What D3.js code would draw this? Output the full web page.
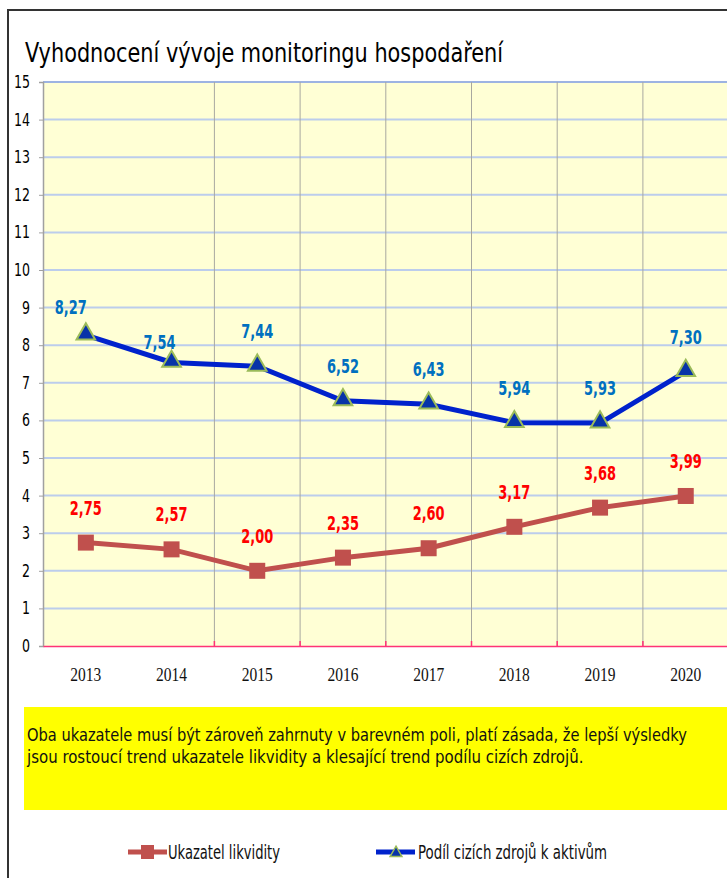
<!DOCTYPE html>
<html>
<head>
<meta charset="utf-8">
<script src="https://cdn.jsdelivr.net/npm/d3@7"></script>
<style>
  body { margin: 0; background: #fff; }
  svg { display: block; }
</style>
</head>
<body>
<svg id="chart" width="727" height="878"></svg>
<script>
// data
const years = ['2013', '2014', '2015', '2016', '2017', '2018', '2019', '2020'];
const likvidita = [2.75, 2.57, 2.00, 2.35, 2.60, 3.17, 3.68, 3.99];
const ciziZdroje = [8.27, 7.54, 7.44, 6.52, 6.43, 5.94, 5.93, 7.30];
const yTicks = d3.range(0, 16);

const titleText = 'Vyhodnocení vývoje monitoringu hospodaření';
const noteLines = [
  'Oba ukazatele musí být zároveň zahrnuty v barevném poli, platí zásada, že lepší výsledky',
  'jsou rostoucí trend ukazatele likvidity a klesající trend podílu cizích zdrojů.'
];
const legendNames = ['Ukazatel likvidity', 'Podíl cizích zdrojů k aktivům'];

const narrow = '"DejaVu Sans Condensed", "Liberation Sans", sans-serif';

const svg = d3.select('#chart');

// squeeze a text to the width it has in the original
function squeeze(sel, w) {
  return sel.attr('textLength', w).attr('lengthAdjust', 'spacingAndGlyphs');
}

// outer frame (only top and left edges are visible)
svg.append('path')
  .attr('d', 'M8,878 V10 H727')
  .attr('fill', 'none')
  .attr('stroke', '#333')
  .attr('stroke-width', 2);

svg.append('text')
  .attr('x', 25).attr('y', 62)
  .attr('font-family', narrow)
  .attr('font-size', 26)
  .attr('fill', '#000')
  .call(squeeze, 478)
  .text(titleText);

const x = d3.scaleBand().domain(years).range([43, 728.6]);
const y = d3.scaleLinear().domain([0, 15]).range([646, 82]);

const plot = svg.append('g');

plot.append('rect')
  .attr('x', x.range()[0]).attr('y', y(15))
  .attr('width', x.range()[1] - x.range()[0])
  .attr('height', y(0) - y(15))
  .attr('fill', '#FFFFD5');

// horizontal grid
plot.selectAll('.hgrid')
  .data(yTicks.filter(d => d > 0))
  .join('line')
  .attr('x1', x.range()[0]).attr('x2', 727)
  .attr('y1', d => y(d)).attr('y2', d => y(d))
  .attr('stroke', d => d === 15 ? '#9DB3E2' : '#BCCDEC')
  .attr('stroke-width', 2);

// vertical separators between the years (the first one is missing in the original)
const seps = years.slice(2).map(d => x(d));
plot.selectAll('.vgrid')
  .data(seps)
  .join('line')
  .attr('x1', d => d).attr('x2', d => d)
  .attr('y1', y(15)).attr('y2', y(0))
  .attr('stroke', '#A8A8A0')
  .attr('stroke-width', 1);

// y axis
const yAxis = d3.axisLeft(y).tickValues(yTicks).tickSize(4).tickFormat(d3.format('d'));
const gy = svg.append('g')
  .attr('transform', `translate(${x.range()[0]},0)`)
  .call(yAxis);
gy.select('.domain').attr('stroke', '#A0A0A0').attr('stroke-width', 1.5);
gy.selectAll('.tick line').attr('stroke', '#A0A0A0');
gy.selectAll('.tick text')
  .attr('x', -13)
  .attr('font-family', narrow)
  .attr('font-size', 17)
  .attr('fill', '#000')
  .each(function(d) { squeeze(d3.select(this), d >= 10 ? 16 : 8); });

// x axis (pink base line)
const xAxis = d3.axisBottom(x).tickSize(0).tickPadding(22);
const gx = svg.append('g')
  .attr('transform', `translate(0,${y(0)})`)
  .call(xAxis);
gx.select('.domain').attr('stroke', '#FF3377').attr('stroke-width', 1.5);
gx.selectAll('.tick text')
  .attr('font-family', '"Liberation Serif", "Times New Roman", serif')
  .attr('font-size', 19)
  .attr('fill', '#111')
  .call(squeeze, 31);
svg.selectAll('.xtick-in')
  .data(seps)
  .join('line')
  .attr('x1', d => d).attr('x2', d => d)
  .attr('y1', y(0) - 5).attr('y2', y(0))
  .attr('stroke', '#FF3377')
  .attr('stroke-width', 1.5);

const cx = d => x(d) + x.bandwidth() / 2;
const line = d3.line().x(d => cx(d[0])).y(d => y(d[1]));

const redPts = years.map((d, i) => [d, likvidita[i]]);
const bluePts = years.map((d, i) => [d, ciziZdroje[i]]);

// red series
svg.append('path')
  .attr('d', line(redPts))
  .attr('fill', 'none')
  .attr('stroke', '#C0504D')
  .attr('stroke-width', 5);
svg.selectAll('.sq')
  .data(redPts)
  .join('rect')
  .attr('x', d => cx(d[0]) - 8).attr('y', d => y(d[1]) - 8)
  .attr('width', 16).attr('height', 16)
  .attr('fill', '#C0504D');

// blue series
svg.append('path')
  .attr('d', line(bluePts))
  .attr('fill', 'none')
  .attr('stroke', '#0022CC')
  .attr('stroke-width', 5);
const tri = d3.symbol().type(d3.symbolTriangle).size(150);
svg.selectAll('.tri')
  .data(bluePts)
  .join('path')
  .attr('d', tri)
  .attr('transform', d => `translate(${cx(d[0])},${y(d[1]) - 1})`)
  .attr('fill', '#0733A8')
  .attr('stroke', '#9BBB59')
  .attr('stroke-width', 2);

// data labels
const fmt = v => d3.format('.2f')(v).replace('.', ',');
// a couple of blue labels were moved by hand in the original
const blueNudge = { '2013': [-15, 7], '2014': [-12, 15] };

svg.selectAll('.rlab')
  .data(redPts)
  .join('text')
  .attr('x', d => cx(d[0]) - 16)
  .attr('y', d => y(d[1]) - 28)
  .attr('font-family', narrow)
  .attr('font-weight', 'bold')
  .attr('font-size', 20)
  .attr('fill', '#FF0000')
  .call(squeeze, 32)
  .text(d => fmt(d[1]));

svg.selectAll('.blab')
  .data(bluePts)
  .join('text')
  .attr('x', d => cx(d[0]) - 16 + (blueNudge[d[0]] ? blueNudge[d[0]][0] : 0))
  .attr('y', d => y(d[1]) - 28 + (blueNudge[d[0]] ? blueNudge[d[0]][1] : 0))
  .attr('font-family', narrow)
  .attr('font-weight', 'bold')
  .attr('font-size', 20)
  .attr('fill', '#0070C0')
  .call(squeeze, 32)
  .text(d => fmt(d[1]));

// yellow note box
svg.append('rect')
  .attr('x', 24).attr('y', 707)
  .attr('width', 703).attr('height', 103)
  .attr('fill', '#FFFF00');
// these lines are long, so scale them instead of using textLength
const noteWidths = [660, 557];
svg.selectAll('.note')
  .data(noteLines)
  .join('text')
  .attr('font-family', narrow)
  .attr('font-size', 18)
  .attr('fill', '#111')
  .text(d => d)
  .each(function(d, i) {
    const natural = this.getComputedTextLength();
    const s = noteWidths[i] / natural;
    d3.select(this).attr('transform', `translate(27,${741 + i * 22}) scale(${s},1)`);
  });

// legend
const lg = svg.append('g');
lg.append('line').attr('x1', 128).attr('x2', 167).attr('y1', 852).attr('y2', 852)
  .attr('stroke', '#C0504D').attr('stroke-width', 5);
lg.append('rect').attr('x', 141).attr('y', 845).attr('width', 13).attr('height', 14)
  .attr('fill', '#C0504D');
lg.append('text').attr('x', 168).attr('y', 859)
  .attr('font-family', narrow).attr('font-size', 20).attr('fill', '#111')
  .call(squeeze, 112)
  .text(legendNames[0]);

lg.append('line').attr('x1', 376).attr('x2', 415).attr('y1', 852).attr('y2', 852)
  .attr('stroke', '#0022CC').attr('stroke-width', 5);
lg.append('path').attr('d', d3.symbol().type(d3.symbolTriangle).size(60))
  .attr('transform', 'translate(396,853)')
  .attr('fill', '#0733A8').attr('stroke', '#9BBB59').attr('stroke-width', 1.5);
lg.append('text').attr('x', 418).attr('y', 859)
  .attr('font-family', narrow).attr('font-size', 20).attr('fill', '#111')
  .call(squeeze, 189)
  .text(legendNames[1]);
</script>
</body>
</html>
